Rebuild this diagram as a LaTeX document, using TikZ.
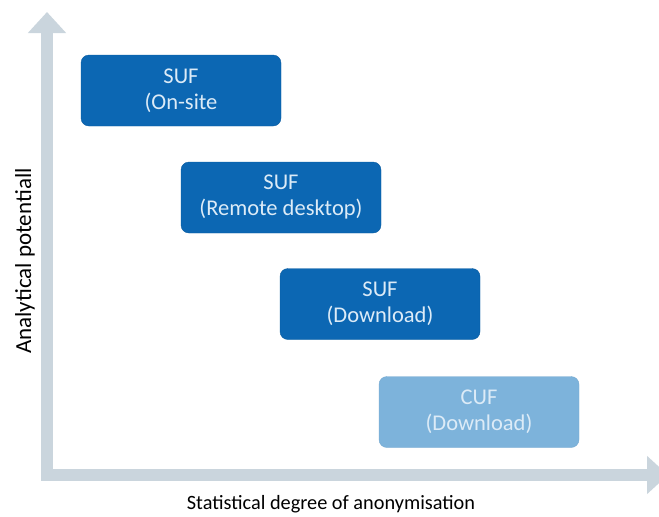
\documentclass[tikz,border=0pt]{standalone}
\usepackage{fontspec}
\setmainfont{Carlito}
\usetikzlibrary{arrows.meta}
\definecolor{axisgray}{HTML}{CAD5DD}
\definecolor{sufblue}{HTML}{0C67B3}
\definecolor{cufblue}{HTML}{7DB3DB}
\definecolor{boxtext}{HTML}{DCEBF7}
\tikzset{
  databox/.style={draw=sufblue!90!black,fill=sufblue,text=boxtext,rounded corners=8pt,
    minimum width=200pt,minimum height=71pt,align=center,
    font=\fontsize{22.5}{26}\selectfont},
  axislabel/.style={font=\fontsize{20.3}{24}\selectfont},
  axis/.style={axisgray,line width=12pt,line join=miter,
    arrows={Triangle[width=37pt,length=21pt]-Triangle[width=37pt,length=21pt]}}
}

\begin{document}
\begin{tikzpicture}[x=1pt,y=-1pt]
\useasboundingbox (0,0) rectangle (659,517);
\coordinate (ytop) at (47,12);
\coordinate (origin) at (47,475);
\coordinate (xend) at (668,475);
\draw[axis] (ytop) -- (origin) -- (xend);
\node[databox] (onsite) at (181,90.5) {SUF\\(On-site};
\node[databox] (remote) at (281,197.5) {SUF\\(Remote desktop)};
\node[databox] (sufdl) at (380,304) {SUF\\(Download)};
\node[databox,draw=cufblue!95!black,fill=cufblue] (cufdl) at (479,412) {CUF\\(Download)};
\node[axislabel,rotate=90,font=\fontsize{23}{26}\selectfont] (ylabel) at (25,261) {Analytical potentiall};
\node[axislabel] (xlabel) at (331,504) {Statistical degree of anonymisation};
\end{tikzpicture}
\end{document}
